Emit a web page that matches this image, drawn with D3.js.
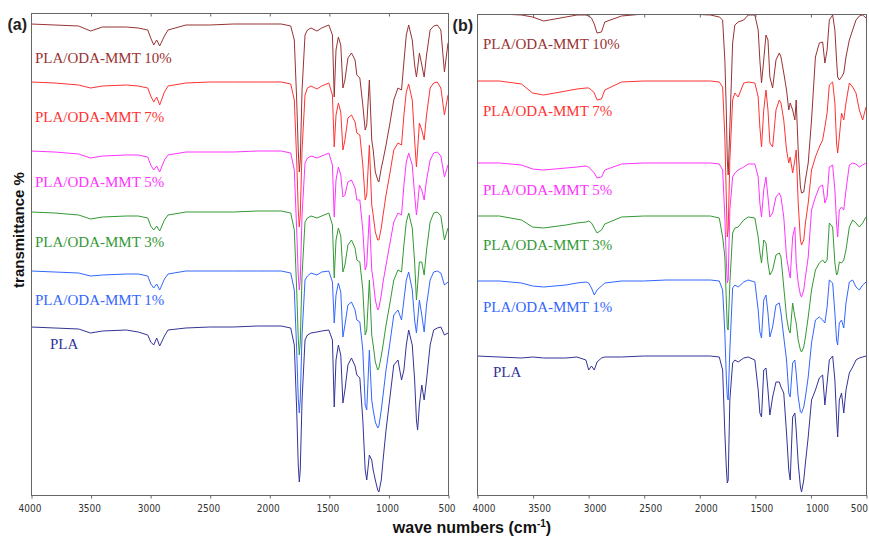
<!DOCTYPE html>
<html>
<head>
<meta charset="utf-8">
<script src="https://cdn.jsdelivr.net/npm/d3@7"></script>
<style>
  body { margin: 0; background: #fff; }
  svg { display: block; }
  .tick text { font-family: "Liberation Sans Narrow", "DejaVu Sans Condensed", sans-serif; font-size: 10px; fill: #333; }
</style>
</head>
<body>
<svg id="chart" width="869" height="538"></svg>
<script>
// wave numbers (cm-1) shared by every spectrum
const waveNumbers = [4000,3800,3600,3500,3400,3200,3100,3020,2995,2970,
  2945,2920,2880,2850,2700,2500,2300,2100,1900,1820,
  1790,1770,1757,1748,1740,1725,1700,1680,1650,1600,
  1560,1500,1470,1455,1440,1420,1400,1382,1365,1340,
  1310,1280,1265,1240,1215,1195,1182,1160,1140,1128,
  1110,1090,1080,1060,1045,1020,990,955,920,890,
  870,850,830,800,780,765,755,740,720,700,
  680,650,620,590,560,530,500];

const tickValues = [4000, 3500, 3000, 2500, 2000, 1500, 1000, 500];
const seriesNames = ['PLA/ODA-MMT 10%', 'PLA/ODA-MMT 7%', 'PLA/ODA-MMT 5%', 'PLA/ODA-MMT 3%', 'PLA/ODA-MMT 1%', 'PLA'];

// panel (a): stacked transmittance, arbitrary units
const a10 = [471,470,469,464,468,468,467,465,457,450,
  455,449,459,465,470,470,471,471,471,469,
  455,395,345,323,335,405,460,465,467,464,
  467,470,460,398,445,458,450,407,415,437,
  442,435,420,417,390,365,370,415,355,345,
  323,315,313,327,335,350,370,395,407,405,
  433,460,470,455,430,418,427,442,430,418,
  440,465,469,470,465,423,452];
const a7 = [413,412,410,407,409,410,409,407,399,393,
  398,390,403,409,412,413,413,413,413,411,
  395,335,285,268,280,345,400,407,409,406,
  409,412,400,348,380,392,383,345,355,377,
  380,373,362,360,330,295,300,350,290,280,
  263,255,255,267,280,300,320,345,352,350,
  380,403,411,395,355,328,345,372,365,355,
  380,407,412,413,407,380,400];
const a5 = [344,343,341,337,339,340,340,338,330,325,
  329,323,335,340,343,343,343,344,344,342,
  325,265,220,205,215,280,332,337,339,337,
  339,342,330,278,315,328,320,298,300,313,
  315,307,295,295,265,225,230,280,225,215,
  195,185,187,200,213,230,250,273,282,280,
  310,333,342,330,300,280,290,310,305,295,
  315,335,342,343,339,318,330];
const a3 = [283,282,280,276,278,279,279,277,269,265,
  269,264,275,280,283,283,283,284,284,282,
  265,205,157,140,153,220,273,277,279,277,
  279,282,270,217,255,267,259,223,230,250,
  255,247,235,233,205,160,165,215,160,150,
  133,125,127,139,150,170,190,215,225,223,
  250,273,282,267,233,195,210,233,233,220,
  245,273,282,283,279,255,267];
const a1 = [224,223,222,219,220,221,221,219,211,207,
  211,205,216,221,224,224,224,224,224,222,
  205,145,97,82,95,160,215,219,222,220,
  223,224,213,172,200,212,203,158,170,190,
  193,185,175,173,145,90,85,145,95,85,
  73,67,69,85,100,125,150,180,185,175,
  195,215,223,205,175,162,175,195,180,163,
  190,215,223,224,222,210,213];
const aPLA = [168,167,166,162,164,165,163,160,153,150,
  157,149,159,165,167,168,168,169,169,167,
  150,85,30,13,25,95,155,160,162,163,
  164,165,155,88,135,150,140,92,105,130,
  137,129,120,117,75,25,15,40,35,25,
  15,5,3,15,35,65,95,130,135,115,
  125,150,165,150,115,75,65,90,110,95,
  115,150,165,167,168,160,162];

// panel (b)
const b10 = [481,481,480,478,474,478,480,480,479,477,
  471,462,463,473,479,481,481,481,480,478,
  475,435,385,335,320,368,452,470,473,475,
  480,480,465,435,412,435,460,455,418,407,
  435,442,438,422,405,385,392,385,375,395,
  345,308,302,303,315,332,375,438,452,453,
  432,445,475,480,465,435,418,415,418,422,
  438,455,465,475,479,480,477];
const b7 = [414,414,411,402,400,404,406,407,407,405,
  402,395,396,405,413,414,414,414,414,413,
  408,358,298,258,265,335,395,402,398,412,
  413,412,398,368,348,385,405,385,352,348,
  385,395,392,375,345,332,338,322,335,345,
  292,255,250,255,272,292,325,338,348,355,
  368,382,410,413,392,352,342,358,382,375,
  392,412,408,402,385,375,388];
const b5 = [332,332,330,326,325,327,328,329,328,325,
  322,317,318,325,331,332,332,332,332,331,
  325,278,235,212,215,285,318,322,325,328,
  331,331,318,292,278,305,318,298,278,282,
  298,302,298,278,238,225,217,258,268,232,
  212,200,198,205,218,238,285,298,308,310,
  292,298,328,330,305,272,258,285,288,285,
  305,330,332,331,328,330,332];
const b3 = [279,279,275,268,267,270,272,273,274,272,
  267,262,265,271,278,279,279,279,279,277,
  258,238,195,167,165,212,262,267,268,275,
  278,277,258,243,232,255,252,232,220,225,
  240,242,238,208,178,165,162,192,178,172,
  155,145,143,148,158,178,205,225,232,235,
  232,235,272,268,232,220,222,233,232,235,
  245,268,275,272,268,272,278];
const b1 = [214,214,212,209,208,210,212,213,212,207,
  200,205,209,212,214,214,215,215,215,214,
  205,162,118,98,95,145,207,210,208,213,
  215,213,185,163,157,195,200,182,158,168,
  190,192,182,158,135,102,98,132,135,122,
  98,83,82,88,98,118,152,175,178,175,
  172,188,215,212,182,155,150,172,175,167,
  192,213,215,208,205,210,213];
const bPLA = [139,138,137,138,137,137,138,135,125,129,
  125,133,137,138,138,139,139,139,139,138,
  125,62,28,12,15,95,132,135,133,137,
  138,135,105,82,78,125,127,105,80,98,
  113,113,108,102,62,25,15,78,82,65,
  32,8,3,15,32,58,95,105,117,120,
  90,112,135,139,115,78,58,95,102,82,
  105,122,128,135,137,138,139];

const colors = ['#993333', '#ff3333', '#ff33ff', '#339933', '#3366ff', '#333399'];

const svg = d3.select('#chart');

function drawPanel(p) {
  const x = d3.scaleLinear().domain([4000, 500]).range([p.left, p.right]);
  const y = d3.scaleLinear().domain([0, p.yMax]).range([p.bottom, p.top]);
  const g = svg.append('g');

  g.append('clipPath').attr('id', p.id + '-clip')
    .append('rect')
    .attr('x', p.left).attr('y', p.top)
    .attr('width', p.right - p.left).attr('height', p.bottom - p.top);

  const line = d3.line()
    .x((d, i) => x(waveNumbers[i]))
    .y(d => y(d));

  g.append('g').attr('clip-path', `url(#${p.id}-clip)`)
    .selectAll('path')
    .data(p.series)
    .join('path')
    .attr('d', d => line(d))
    .attr('fill', 'none')
    .attr('stroke', (d, i) => colors[i])
    .attr('stroke-width', 1)
    .attr('stroke-linejoin', 'round');

  // labels sit just below each trace's flat start
  g.selectAll('text.lbl')
    .data(p.series)
    .join('text')
    .attr('class', 'lbl')
    .attr('x', (d, i) => p.left + p.labelDx[i])
    .attr('y', (d, i) => y(d[0]) + p.labelDy[i])
    .attr('fill', (d, i) => colors[i])
    .style('font-family', '"Liberation Serif", "Times New Roman", serif')
    .style('font-size', '15px')
    .text((d, i) => seriesNames[i]);

  // frame
  g.append('rect')
    .attr('x', p.left + 0.5).attr('y', p.top + 0.5)
    .attr('width', p.right - p.left).attr('height', p.bottom - p.top)
    .attr('fill', 'none').attr('stroke', '#666').attr('stroke-width', 1);

  const bottom = g.append('g')
    .attr('transform', `translate(0.5,${p.bottom + 0.5})`)
    .call(d3.axisBottom(x).tickValues(tickValues).tickSize(3).tickSizeOuter(0).tickFormat(d3.format('d')));
  bottom.select('.domain').remove();
  bottom.selectAll('.tick line').attr('stroke', '#666');
  bottom.selectAll('.tick text').attr('dy', '1.05em').attr('dx', p.tickDx);
  if (p.lastEnd) {
    // keep the last label inside the picture
    bottom.selectAll('.tick text').filter(d => d === 500)
      .attr('text-anchor', 'end').attr('dx', 1);
  }

  const top = g.append('g')
    .attr('transform', `translate(0.5,${p.top + 0.5})`)
    .call(d3.axisBottom(x).tickValues(tickValues.slice(1, -1)).tickSize(3).tickFormat(''));
  top.select('.domain').remove();
  top.selectAll('.tick line').attr('stroke', '#666');

  svg.append('text')
    .attr('x', p.left - 4).attr('y', p.top + 17)
    .attr('text-anchor', 'end')
    .style('font-family', '"Liberation Sans", Arial, sans-serif')
    .style('font-weight', 'bold').style('font-size', '16px')
    .attr('fill', '#222')
    .text(p.name);
}

drawPanel({
  id: 'pa', name: '(a)', left: 31, right: 448, top: 13, bottom: 495, yMax: 482,
  series: [a10, a7, a5, a3, a1, aPLA],
  labelDx: [4, 4, 4, 4, 4, 19], labelDy: [39, 40, 36, 35, 34, 22], tickDx: -2, lastEnd: false
});

drawPanel({
  id: 'pb', name: '(b)', left: 477, right: 866, top: 14, bottom: 495, yMax: 481,
  series: [b10, b7, b5, b3, b1, bPLA],
  labelDx: [6, 6, 6, 6, 6, 16], labelDy: [35, 35, 32, 34, 31, 21], tickDx: 6, lastEnd: true
});

// axis titles
const title = svg.append('text')
  .attr('x', 472).attr('y', 533)
  .attr('text-anchor', 'middle')
  .style('font-family', '"Liberation Sans", Arial, sans-serif')
  .style('font-weight', 'bold').style('font-size', '16px')
  .attr('fill', '#111');
title.append('tspan').text('wave numbers (cm');
title.append('tspan').attr('dy', -6).style('font-size', '10px').text('-1');
title.append('tspan').attr('dy', 6).text(')');

svg.append('text')
  .attr('transform', 'translate(24,230) rotate(-90)')
  .attr('text-anchor', 'middle')
  .style('font-family', '"Liberation Sans", Arial, sans-serif')
  .style('font-weight', 'bold').style('font-size', '15px')
  .attr('fill', '#111')
  .text('transmittance %');
</script>
</body>
</html>
